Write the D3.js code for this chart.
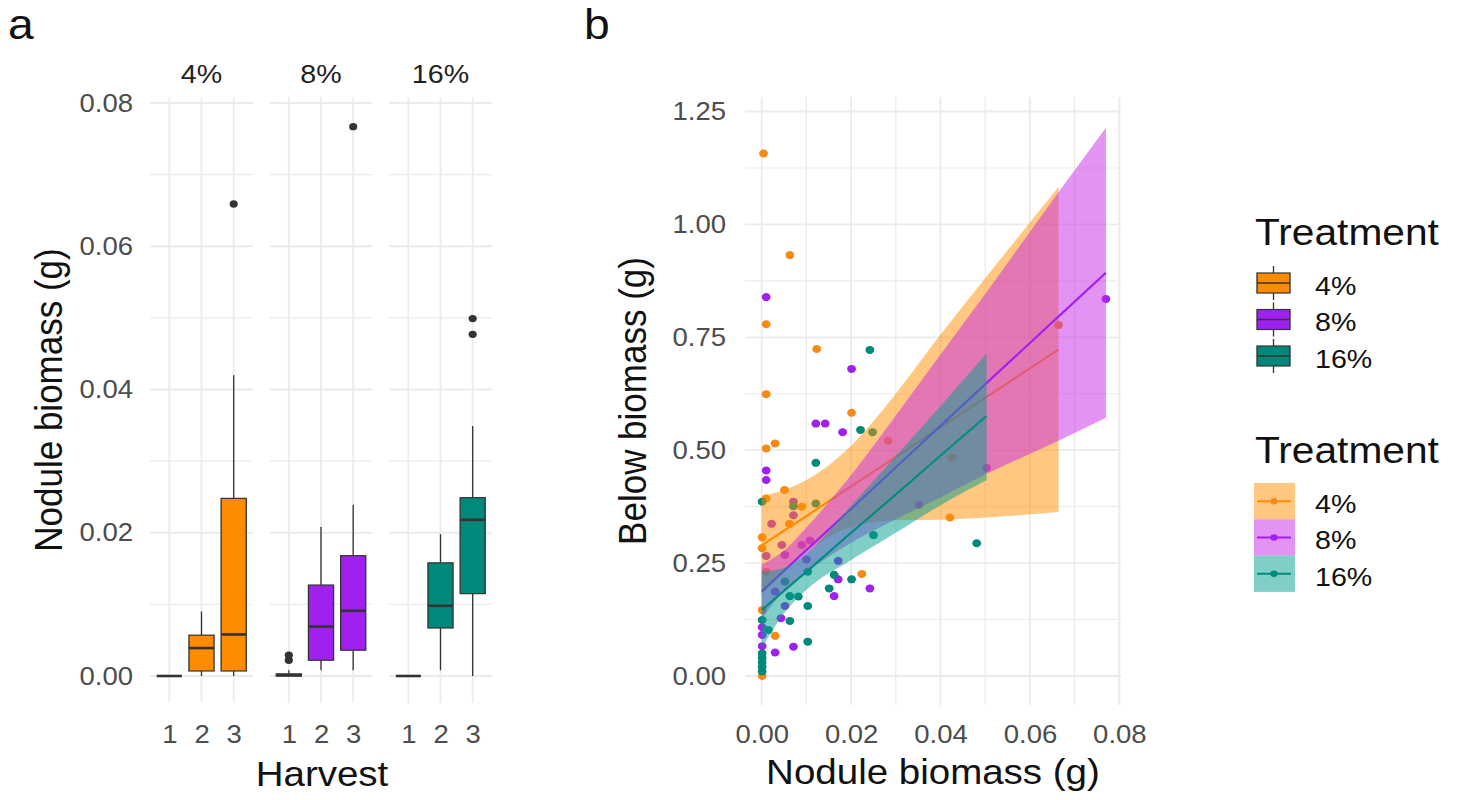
<!DOCTYPE html>
<html><head><meta charset="utf-8">
<script src="https://cdn.jsdelivr.net/npm/d3@7"></script>
<style>body{margin:0;background:#fff} svg{display:block}</style>
</head><body>
<svg id="c" width="1458" height="800"></svg>
<script>
// ---------- DATA ----------
const treatments = ["4%", "8%", "16%"];
const harvests = ["1", "2", "3"];
// boxplot stats, order: 4%(H1,H2,H3), 8%(H1,H2,H3), 16%(H1,H2,H3)
const boxMin = [0, 0, 0, 0, 0.0008, 0.0008, 0, 0.0008, 0];
const boxQ1  = [0, 0.0007, 0.0007, 0, 0.0022, 0.0036, 0, 0.0067, 0.0115];
const boxMed = [0, 0.0039, 0.0058, 0.0001, 0.0069, 0.0091, 0, 0.0098, 0.0218];
const boxQ3  = [0, 0.0057, 0.0248, 0.0003, 0.0127, 0.0168, 0, 0.0158, 0.0249];
const boxMax = [0, 0.009, 0.042, 0.0008, 0.0208, 0.0239, 0, 0.0198, 0.0349];
const outTreat = ["4%", "8%", "8%", "8%", "16%", "16%"];
const outHarv  = ["3", "1", "1", "3", "3", "3"];
const outVal   = [0.0659, 0.0022, 0.0029, 0.0767, 0.0499, 0.0477];
const yTicksA = [0, 0.02, 0.04, 0.06, 0.08];

// scatter (panel b)
const p4x = [0.0004,0.0063,0.001,0.0123,0.001,0.0201,0.001,0.003,0.0051,0.001,0.009,0.0062,0.0001,0.0001,0.001,0.0224,0.0001,0.003,0.0001,0.0283,0.0425,0.0421,0.0664];
const p4y = [1.157,0.932,0.779,0.724,0.624,0.583,0.504,0.515,0.412,0.393,0.375,0.337,0.307,0.283,0.231,0.226,0.146,0.089,0.0,0.521,0.484,0.351,0.777];
const p8x = [0.001,0.0201,0.0121,0.0142,0.0181,0.001,0.001,0.0071,0.0071,0.0022,0.0045,0.009,0.0108,0.001,0.0052,0.010,0.0171,0.0171,0.0242,0.0162,0.003,0.0052,0.0043,0.0001,0.0001,0.0001,0.003,0.0071,0.0503,0.0352,0.0770];
const p8y = [0.839,0.680,0.559,0.559,0.540,0.455,0.434,0.386,0.356,0.337,0.290,0.290,0.300,0.266,0.268,0.258,0.255,0.214,0.194,0.177,0.187,0.155,0.128,0.108,0.091,0.066,0.052,0.065,0.461,0.379,0.835];
const p16x = [0.0242,0.0221,0.0248,0.0121,0.0001,0.0071,0.0121,0.025,0.0103,0.0162,0.0201,0.0151,0.0052,0.0063,0.0082,0.0103,0.0001,0.0063,0.0015,0.0103,0.0001,0.0001,0.0001,0.0001,0.0001,0.0481];
const p16y = [0.722,0.545,0.540,0.472,0.386,0.376,0.382,0.312,0.231,0.224,0.214,0.194,0.209,0.177,0.176,0.155,0.124,0.122,0.102,0.076,0.05,0.04,0.03,0.02,0.01,0.294];

// smooth fits and confidence ribbons
const rib4X  = [0, 0.005, 0.01, 0.02, 0.03, 0.04, 0.05, 0.0664];
const rib4Lo = [0.179, 0.232, 0.274, 0.330, 0.345, 0.346, 0.351, 0.363];
const rib4Hi = [0.399, 0.412, 0.434, 0.510, 0.625, 0.756, 0.881, 1.083];
const fit4   = [0.289, 0.322, 0.354, 0.420, 0.485, 0.551, 0.616, 0.723];
const rib8X  = [0, 0.005, 0.01, 0.02, 0.03, 0.04, 0.05, 0.0664, 0.077];
const rib8Lo = [0.127, 0.188, 0.229, 0.295, 0.347, 0.396, 0.446, 0.521, 0.572];
const rib8Hi = [0.247, 0.278, 0.329, 0.445, 0.577, 0.712, 0.846, 1.071, 1.214];
const fit8   = [0.187, 0.233, 0.279, 0.370, 0.462, 0.554, 0.646, 0.796, 0.893];
const rib16X  = [0, 0.005, 0.01, 0.02, 0.03, 0.04, 0.0503];
const rib16Lo = [0.061, 0.139, 0.191, 0.257, 0.317, 0.378, 0.434];
const rib16Hi = [0.231, 0.239, 0.271, 0.377, 0.487, 0.598, 0.714];
const fit16   = [0.146, 0.189, 0.231, 0.317, 0.402, 0.488, 0.576];

const xTicksB = [0, 0.02, 0.04, 0.06, 0.08];
const yTicksB = [0, 0.25, 0.5, 0.75, 1.0, 1.25];

// ---------- STYLE ----------
const colBox  = ["#FF8C00", "#A020F0", "#00897B"];
const colPt   = ["#F38B14", "#A020F0", "#00897B"];
const colRib  = ["#FF9000", "#C828E8", "#00A090"];
const colLine = ["#FF8C00", "#A020F0", "#008B80"];
const FONT = "'Liberation Sans', Arial, sans-serif";
const GRID = "#EBEBEB";
const SX = 1.1;           // the reference is horizontally stretched
const X = v => v / SX;

const svg = d3.select("#c");
const root = svg.append("g").attr("transform", `scale(${SX},1)`);

// ---------- PANEL A ----------
const ga = root.append("g");
const yA = d3.scaleLinear().domain([-0.00377, 0.08084]).range([703, 97]);
const facetStart = [150, 269.5, 389], facetW = 103;
const facetScales = facetStart.map(s =>
  d3.scalePoint().domain(harvests).range([X(s), X(s + facetW)]).padding(0.6));

facetStart.forEach((s, i) => {
  const fx = facetScales[i];
  const x0 = X(s), x1 = X(s + facetW);
  const grid = ga.append("g");
  d3.range(0.01, 0.08, 0.02).forEach(v => grid.append("line")
    .attr("x1", x0).attr("x2", x1).attr("y1", yA(v)).attr("y2", yA(v))
    .attr("stroke", GRID).attr("stroke-width", 1.1));
  yTicksA.forEach(v => grid.append("line")
    .attr("x1", x0).attr("x2", x1).attr("y1", yA(v)).attr("y2", yA(v))
    .attr("stroke", GRID).attr("stroke-width", 1.8));
  harvests.forEach(h => grid.append("line")
    .attr("x1", fx(h)).attr("x2", fx(h)).attr("y1", 97).attr("y2", 703)
    .attr("stroke", GRID).attr("stroke-width", 1.6));
  // strip label
  ga.append("text").attr("x", (x0 + x1) / 2).attr("y", 83).attr("text-anchor", "middle")
    .attr("font-family", FONT).attr("font-size", 26).attr("fill", "#222").text(treatments[i]);
  // x axis
  const ax = ga.append("g").attr("transform", "translate(0,703)")
    .call(d3.axisBottom(fx).tickSize(0).tickPadding(22));
  ax.select(".domain").remove();
  ax.selectAll("text").attr("font-family", FONT).attr("font-size", 25).attr("fill", "#4D4D4D");
});

// boxes
treatments.forEach((t, i) => {
  const fx = facetScales[i];
  const w = fx.step() * 0.78;
  harvests.forEach((h, j) => {
    const k = i * 3 + j, cx = fx(h);
    const g = ga.append("g");
    g.append("line").attr("x1", cx).attr("x2", cx).attr("y1", yA(boxMax[k])).attr("y2", yA(boxQ3[k]))
      .attr("stroke", "#333").attr("stroke-width", 1.2);
    g.append("line").attr("x1", cx).attr("x2", cx).attr("y1", yA(boxQ1[k])).attr("y2", yA(boxMin[k]))
      .attr("stroke", "#333").attr("stroke-width", 1.2);
    g.append("rect").attr("x", cx - w / 2).attr("width", w)
      .attr("y", yA(boxQ3[k])).attr("height", Math.max(0, yA(boxQ1[k]) - yA(boxQ3[k])))
      .attr("fill", colBox[i]).attr("stroke", "#333").attr("stroke-width", 1.2);
    g.append("line").attr("x1", cx - w / 2).attr("x2", cx + w / 2)
      .attr("y1", yA(boxMed[k])).attr("y2", yA(boxMed[k]))
      .attr("stroke", "#333").attr("stroke-width", 2.6);
  });
});
outVal.forEach((v, n) => {
  const i = treatments.indexOf(outTreat[n]);
  ga.append("circle").attr("cx", facetScales[i](outHarv[n])).attr("cy", yA(v)).attr("r", 3.7)
    .attr("fill", "#333");
});

// y axis A
const ayA = ga.append("g").attr("transform", `translate(${X(150)},0)`)
  .call(d3.axisLeft(yA).tickValues(yTicksA).tickFormat(d3.format(".2f")).tickSize(0).tickPadding(X(17)));
ayA.select(".domain").remove();
ayA.selectAll("text").attr("font-family", FONT).attr("font-size", 25).attr("fill", "#4D4D4D");

ga.append("text").attr("transform", `translate(${X(62)},400) rotate(-90)`).attr("text-anchor", "middle")
  .attr("font-family", FONT).attr("font-size", 35).attr("fill", "#111").text("Nodule biomass (g)");
ga.append("text").attr("x", X(322)).attr("y", 786).attr("text-anchor", "middle")
  .attr("font-family", FONT).attr("font-size", 35).attr("fill", "#111").text("Harvest");
root.append("text").attr("x", X(8)).attr("y", 39).attr("font-family", FONT).attr("font-size", 42)
  .attr("fill", "#111").text("a");
root.append("text").attr("x", X(584)).attr("y", 39).attr("font-family", FONT).attr("font-size", 42)
  .attr("fill", "#111").text("b");

// ---------- PANEL B ----------
const gb = root.append("g");
const xB = d3.scaleLinear().domain([-0.00374, 0.08038]).range([X(745), X(1121)]);
const yB = d3.scaleLinear().domain([-0.0642, 1.2821]).range([705, 97]);
d3.range(0.01, 0.08, 0.02).forEach(v => gb.append("line")
  .attr("x1", xB(v)).attr("x2", xB(v)).attr("y1", 97).attr("y2", 705).attr("stroke", GRID).attr("stroke-width", 1.1));
xTicksB.forEach(v => gb.append("line")
  .attr("x1", xB(v)).attr("x2", xB(v)).attr("y1", 97).attr("y2", 705).attr("stroke", GRID).attr("stroke-width", 1.7));
d3.range(0.125, 1.25, 0.25).forEach(v => gb.append("line")
  .attr("x1", X(745)).attr("x2", X(1121)).attr("y1", yB(v)).attr("y2", yB(v)).attr("stroke", GRID).attr("stroke-width", 1.1));
yTicksB.forEach(v => gb.append("line")
  .attr("x1", X(745)).attr("x2", X(1121)).attr("y1", yB(v)).attr("y2", yB(v)).attr("stroke", GRID).attr("stroke-width", 1.8));

// points first
[[p4x, p4y], [p8x, p8y], [p16x, p16y]].forEach(([px, py], i) => {
  px.forEach((x, n) => gb.append("circle").attr("cx", xB(x)).attr("cy", yB(py[n])).attr("r", 4)
    .attr("fill", colPt[i]));
});

// ribbons + lines, per group
const ribs = [[rib4X, rib4Lo, rib4Hi, fit4], [rib8X, rib8Lo, rib8Hi, fit8], [rib16X, rib16Lo, rib16Hi, fit16]];
ribs.forEach(([rx, lo, hi, fit], i) => {
  const idx = d3.range(rx.length);
  const area = d3.area().x(k => xB(rx[k])).y0(k => yB(lo[k])).y1(k => yB(hi[k])).curve(d3.curveMonotoneX);
  gb.append("path").attr("d", area(idx)).attr("fill", colRib[i]).attr("fill-opacity", 0.5);
  const line = d3.line().x(k => xB(rx[k])).y(k => yB(fit[k]));
  gb.append("path").attr("d", line(idx)).attr("fill", "none").attr("stroke", colLine[i]).attr("stroke-width", 2);
});

const axB = gb.append("g").attr("transform", "translate(0,705)")
  .call(d3.axisBottom(xB).tickValues(xTicksB).tickFormat(d3.format(".2f")).tickSize(0).tickPadding(20));
axB.select(".domain").remove();
axB.selectAll("text").attr("font-family", FONT).attr("font-size", 25).attr("fill", "#4D4D4D");
const ayB = gb.append("g").attr("transform", `translate(${X(745)},0)`)
  .call(d3.axisLeft(yB).tickValues(yTicksB).tickFormat(d3.format(".2f")).tickSize(0).tickPadding(X(19)));
ayB.select(".domain").remove();
ayB.selectAll("text").attr("font-family", FONT).attr("font-size", 25).attr("fill", "#4D4D4D");

gb.append("text").attr("transform", `translate(${X(646)},401) rotate(-90)`).attr("text-anchor", "middle")
  .attr("font-family", FONT).attr("font-size", 35).attr("fill", "#111").text("Below biomass (g)");
gb.append("text").attr("x", X(933)).attr("y", 784).attr("text-anchor", "middle")
  .attr("font-family", FONT).attr("font-size", 35).attr("fill", "#111").text("Nodule biomass (g)");

// ---------- LEGENDS ----------
const gl = root.append("g");
gl.append("text").attr("x", X(1255)).attr("y", 245).attr("font-family", FONT).attr("font-size", 37)
  .attr("fill", "#111").text("Treatment");
const keyY1 = [283, 319.5, 356];
treatments.forEach((t, i) => {
  const cy = keyY1[i], x0 = X(1257), x1 = X(1290), cx = (x0 + x1) / 2;
  gl.append("line").attr("x1", cx).attr("x2", cx).attr("y1", cy - 17).attr("y2", cy + 17)
    .attr("stroke", "#333").attr("stroke-width", 1.2);
  gl.append("rect").attr("x", x0).attr("y", cy - 10).attr("width", x1 - x0).attr("height", 20)
    .attr("fill", colBox[i]).attr("stroke", "#333").attr("stroke-width", 1.2);
  gl.append("line").attr("x1", x0).attr("x2", x1).attr("y1", cy).attr("y2", cy)
    .attr("stroke", "#333").attr("stroke-width", 1.6);
  gl.append("text").attr("x", X(1315)).attr("y", cy + 12).attr("font-family", FONT).attr("font-size", 26)
    .attr("fill", "#111").text(t);
});
gl.append("text").attr("x", X(1255)).attr("y", 463).attr("font-family", FONT).attr("font-size", 37)
  .attr("fill", "#111").text("Treatment");
const keyTop2 = [483, 519.3, 555.6];
treatments.forEach((t, i) => {
  const y0 = keyTop2[i], cy = y0 + 18.2, x0 = X(1254), x1 = X(1295);
  gl.append("rect").attr("x", x0).attr("y", y0).attr("width", x1 - x0).attr("height", 36.3)
    .attr("fill", colRib[i]).attr("fill-opacity", 0.5);
  gl.append("line").attr("x1", X(1257)).attr("x2", X(1291)).attr("y1", cy).attr("y2", cy)
    .attr("stroke", colLine[i]).attr("stroke-width", 2);
  gl.append("circle").attr("cx", X(1274)).attr("cy", cy).attr("r", 3.3).attr("fill", colPt[i]);
  gl.append("text").attr("x", X(1315)).attr("y", cy + 12).attr("font-family", FONT).attr("font-size", 26)
    .attr("fill", "#111").text(t);
});
</script>
</body></html>
